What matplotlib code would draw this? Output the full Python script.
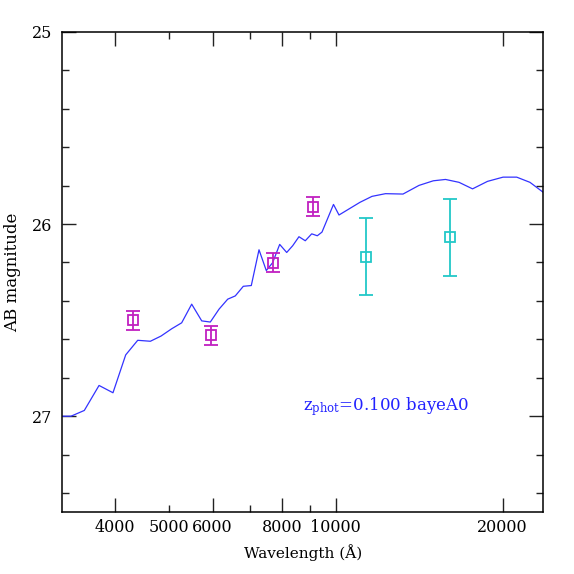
import matplotlib
matplotlib.use("Agg")
import matplotlib.pyplot as plt
from matplotlib.ticker import FixedLocator, FixedFormatter, NullFormatter

plt.rcParams['font.family'] = ['DejaVu Serif']
plt.rcParams['mathtext.fontset'] = 'dejavuserif'

# SED model curve (wavelength in Angstrom, AB magnitude)
sed_wave = [3215, 3333, 3523, 3745, 3968, 4183, 4397, 4634, 4843, 5063,
            5277, 5501, 5735, 5943, 6162, 6388, 6592, 6815, 7045, 7274,
            7497, 7698, 7926, 8160, 8365, 8586, 8814, 9053, 9265, 9447,
            9909, 10138, 11060, 11626, 12297, 13223, 14130, 14996, 15774, 16684,
            17647, 18777, 20030, 21196, 22395, 23667]
sed_mag = [27.000, 27.000, 26.970, 26.840, 26.878, 26.681, 26.605, 26.610, 26.583, 26.545,
           26.514, 26.417, 26.504, 26.510, 26.443, 26.391, 26.374, 26.324, 26.320, 26.134,
           26.242, 26.201, 26.106, 26.148, 26.113, 26.066, 26.087, 26.051, 26.061, 26.042,
           25.898, 25.953, 25.887, 25.856, 25.842, 25.844, 25.799, 25.775, 25.768, 25.783,
           25.817, 25.778, 25.756, 25.756, 25.783, 25.835]

# Photometry: optical (magenta) and near-IR (cyan)
opt_wave = [4317, 5953, 7719, 9113]
opt_mag = [26.500, 26.578, 26.201, 25.909]
opt_err = [0.05, 0.05, 0.05, 0.05]

nir_wave = [11340, 16094]
nir_mag = [26.170, 26.070]
nir_err = [0.20, 0.20]

xmajor = [4000, 6000, 8000, 10000, 20000]
xmajor_labels = ['4000', '6000', '8000', '10000', '20000']
xminor = [5000, 7000, 9000]
xminor_labels = ['5000', '', '']
ymajor = [25, 26, 27]
ymajor_labels = ['25', '26', '27']
yminor = [25.2, 25.4, 25.6, 25.8, 26.2, 26.4, 26.6, 26.8, 27.2, 27.4]

fig = plt.figure(figsize=(5.74, 5.74), dpi=100)
ax = fig.add_axes([0.1085, 0.1075, 0.838, 0.837])

ax.plot(sed_wave, sed_mag, color='#3333ff', lw=0.9, zorder=2)

magenta = '#c020c0'
cyan = '#22c8c8'
ax.errorbar(opt_wave, opt_mag, yerr=opt_err, fmt='s', mfc='none', mec=magenta,
            ms=7, mew=1.3, ecolor=magenta, elinewidth=1.3, capsize=5, capthick=1.3, zorder=3)
ax.errorbar(nir_wave, nir_mag, yerr=nir_err, fmt='s', mfc='none', mec=cyan,
            ms=7, mew=1.3, ecolor=cyan, elinewidth=1.3, capsize=5, capthick=1.3, zorder=3)

ax.set_xscale('log')
ax.set_xlim(3215, 23670)
ax.set_ylim(27.5, 25)

ax.xaxis.set_major_locator(FixedLocator(xmajor))
ax.xaxis.set_major_formatter(FixedFormatter(xmajor_labels))
ax.xaxis.set_minor_locator(FixedLocator(xminor))
ax.xaxis.set_minor_formatter(FixedFormatter(xminor_labels))
ax.yaxis.set_major_locator(FixedLocator(ymajor))
ax.yaxis.set_major_formatter(FixedFormatter(ymajor_labels))
ax.yaxis.set_minor_locator(FixedLocator(yminor))
ax.yaxis.set_minor_formatter(NullFormatter())

ax.tick_params(which='both', direction='in', top=True, right=True, labelsize=11.5,
               width=1.0, colors='#222222', labelcolor='black')
ax.tick_params(which='major', length=10, pad=5)
ax.tick_params(which='minor', length=5, pad=5)
ax.tick_params(axis='y', which='major', pad=7)
for s in ax.spines.values():
    s.set_linewidth(1.1)

ax.set_xlabel('Wavelength (Å)', fontsize=11, labelpad=6)
ax.set_ylabel('AB magnitude', fontsize=12, labelpad=8)

ax.text(0.50, 0.22, r'z$_{\rm phot}$=0.100 bayeA0', transform=ax.transAxes,
        color='#2222ff', fontsize=12, ha='left', va='center')

fig.savefig('out.png', dpi=100)
